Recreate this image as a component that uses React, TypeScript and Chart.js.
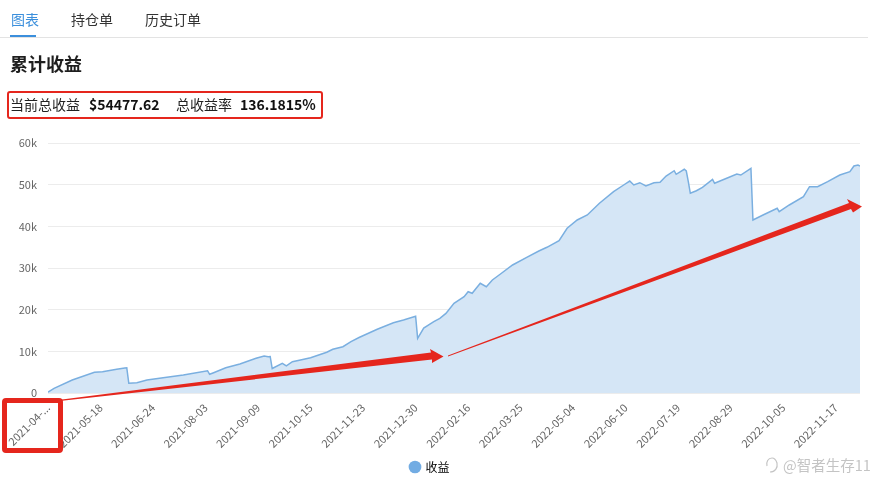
import React, { useEffect, useRef } from "react";
import { Chart, registerables } from "chart.js";

Chart.register(...registerables);

// ---------- data ----------
const tabLabels = ["图表", "持仓单", "历史订单"];
const chartTitle = "累计收益";
const seriesName = "收益";
const totalProfitLabel = "当前总收益";
const totalProfit = "$54477.62";
const totalRateLabel = "总收益率";
const totalRate = "136.1815%";
const watermark = "@智者生存11";

const tickLabels = [
  "2021-04-...", "2021-05-18", "2021-06-24", "2021-08-03", "2021-09-09", "2021-10-15",
  "2021-11-23", "2021-12-30", "2022-02-16", "2022-03-25", "2022-05-04", "2022-06-10",
  "2022-07-19", "2022-08-29", "2022-10-05", "2022-11-17",
];
const tickIndex = [0, 26, 52, 78, 104, 130, 156, 182, 208, 234, 260, 286, 312, 338, 364, 390];
const lastIndex = 402;

// trading-day index of each sampled point
const dayIndex = [
  0, 3, 12, 23, 27, 34, 38, 39, 40, 44, 49, 57, 67, 79, 80, 82, 88, 95, 103, 107, 109, 110,
  111, 116, 118, 121, 125, 130, 138, 141, 146, 150, 154, 163, 171, 176, 182, 183, 186, 191,
  194, 197, 201, 206, 208, 210, 214, 217, 220, 224, 230, 237, 243, 247, 253, 257, 262, 267,
  273, 280, 285, 288, 290, 293, 296, 300, 303, 306, 310, 311, 315, 316, 317, 318, 321, 324,
  329, 330, 336, 341, 343, 348, 349, 354, 361, 362, 367, 374, 377, 381, 386, 392, 397, 399,
  401, 402,
];
// cumulative profit in dollars
const profit = [
  200, 1130, 3120, 4970, 5110, 5690, 6000, 6050, 2330, 2470, 3120, 3670, 4320, 5350, 4490, 4870,
  6070, 6960, 8330, 8880, 8710, 8760, 5880, 7130, 6530, 7510, 7920, 8470, 9770, 10490, 11110,
  12310, 13320, 15290, 16870, 17520, 18410, 13130, 15600, 17110, 17900, 19100, 21530, 23110,
  24310, 23930, 26330, 25510, 27120, 28560, 30720, 32570, 34080, 34970, 36550, 39530, 41520,
  42720, 45530, 48310, 49920, 50880, 49920, 50470, 49680, 50470, 50570, 52080, 53350, 52490,
  53690, 53280, 50710, 47930, 48550, 49370, 51290, 50330, 51530, 52560, 52320, 53930, 41520,
  42720, 44330, 43510, 45120, 47110, 49510, 49510, 50710, 52320, 53110, 54480, 54720, 54478,
];

const FONT = "'Noto Sans CJK SC', 'Noto Sans', sans-serif";
const LINE = "#7aafe0";
const FILL = "#d5e6f6";
const RED = "#e5261d";

export default function App() {
  const ref = useRef<HTMLCanvasElement | null>(null);

  useEffect(() => {
    if (!ref.current) return;
    const chart = new Chart(ref.current, {
      type: "line",
      data: {
        datasets: [
          {
            label: seriesName,
            data: dayIndex.map((d, i) => ({ x: d, y: profit[i] })),
            borderColor: LINE,
            backgroundColor: FILL,
            borderWidth: 1.5,
            pointRadius: 0,
            fill: "origin",
            tension: 0,
          },
        ],
      },
      options: {
        responsive: false,
        animation: false,
        layout: { padding: { left: 0, right: 15, top: 143, bottom: 14 } },
        plugins: {
          tooltip: { enabled: false },
          legend: {
            position: "bottom",
            labels: {
              usePointStyle: true,
              pointStyle: "circle",
              boxWidth: 9,
              boxHeight: 9,
              padding: 10,
              color: "#333",
              font: { family: FONT, size: 12 },
              generateLabels: () => [
                {
                  text: seriesName,
                  fillStyle: "#72ace3",
                  strokeStyle: "#72ace3",
                  lineWidth: 0,
                  pointStyle: "circle",
                  hidden: false,
                  datasetIndex: 0,
                },
              ],
            },
          },
        },
        scales: {
          x: {
            type: "linear",
            min: 0,
            max: lastIndex,
            grid: { display: false },
            border: { display: false },
            afterBuildTicks: (scale: any) => {
              scale.ticks = tickIndex.map((v) => ({ value: v }));
            },
            afterFit: (scale: any) => {
              scale.height = 58;
            },
            ticks: {
              autoSkip: false,
              minRotation: 45,
              maxRotation: 45,
              padding: 0,
              color: "#666",
              font: { family: FONT, size: 11 },
              callback: (v: any) => {
                const k = tickIndex.indexOf(Number(v));
                return k >= 0 ? tickLabels[k] : "";
              },
            },
          },
          y: {
            min: 0,
            max: 60000,
            border: { display: false },
            grid: { color: "#ececec", drawTicks: false },
            afterFit: (scale: any) => {
              scale.width = 48;
            },
            ticks: {
              stepSize: 10000,
              padding: 11,
              color: "#666",
              font: { family: FONT, size: 11 },
              callback: (v: any) => (Number(v) === 0 ? "0" : Number(v) / 1000 + "k"),
            },
          },
        },
      },
    });
    return () => chart.destroy();
  }, []);

  const abs = (s: React.CSSProperties): React.CSSProperties => ({ position: "absolute", whiteSpace: "nowrap", ...s });

  return (
    <div
      style={abs({
        left: 0,
        top: 0,
        width: 875,
        height: 497,
        overflow: "hidden",
        background: "#fff",
        fontFamily: FONT,
        color: "#222",
      })}
    >
      <canvas ref={ref} width={875} height={497} style={abs({ left: 0, top: 0 })} />

      {/* tabs */}
      {tabLabels.map((t, i) => (
        <div
          key={t}
          style={abs({
            left: [11, 71, 145][i],
            top: 9,
            fontSize: 14,
            lineHeight: "20px",
            color: i === 0 ? "#3b8fdc" : "#333",
          })}
        >
          {t}
        </div>
      ))}
      <div style={abs({ left: 0, top: 37, width: 868, height: 1, background: "#e3e3e3" })} />
      <div style={abs({ left: 10, top: 35, width: 26, height: 2, background: "#3b8fdc" })} />

      {/* title */}
      <div style={abs({ left: 10, top: 50, fontSize: 18, lineHeight: "26px", fontWeight: 700, color: "#1e1e1e" })}>
        {chartTitle}
      </div>

      {/* stats */}
      <div style={abs({ left: 10, top: 94, fontSize: 14, lineHeight: "20px", color: "#222" })}>{totalProfitLabel}</div>
      <div style={abs({ left: 89, top: 94, fontSize: 14, lineHeight: "20px", fontWeight: 700, color: "#111" })}>{totalProfit}</div>
      <div style={abs({ left: 176, top: 94, fontSize: 14, lineHeight: "20px", color: "#222" })}>{totalRateLabel}</div>
      <div style={abs({ left: 240, top: 94, fontSize: 14, lineHeight: "20px", fontWeight: 700, color: "#111" })}>{totalRate}</div>

      {/* red annotations */}
      <div
        style={abs({
          left: 7,
          top: 91,
          width: 316,
          height: 28,
          boxSizing: "border-box",
          border: `2.5px solid ${RED}`,
          borderRadius: 3,
        })}
      />
      <div
        style={abs({
          left: 2,
          top: 398,
          width: 61,
          height: 55,
          boxSizing: "border-box",
          border: `5px solid ${RED}`,
          borderRadius: 4,
        })}
      />
      <svg width={875} height={497} style={abs({ left: 0, top: 0, pointerEvents: "none" })}>
        <polygon points="62,399.5 431,352.5 430,349 443.5,356.5 432,363 432,359.5 62,400.8" fill={RED} />
        <polygon points="448,355.5 849,203 847,199 862,206.5 853,212.5 851,209 448,356.5" fill={RED} />
      </svg>

      {/* watermark */}
      <svg width={18} height={18} style={abs({ left: 763, top: 456 })}>
        <path d="M9 2 C5 2 3 6 4 10 M7 16 C12 16 15 12 14 7 C13 4 11 2 9 2" stroke="#c4c4c4" strokeWidth="1.2" fill="none" />
      </svg>
      <div style={abs({ left: 783, top: 455, fontSize: 14.5, lineHeight: "20px", color: "#c4c4c4" })}>{watermark}</div>
    </div>
  );
}
